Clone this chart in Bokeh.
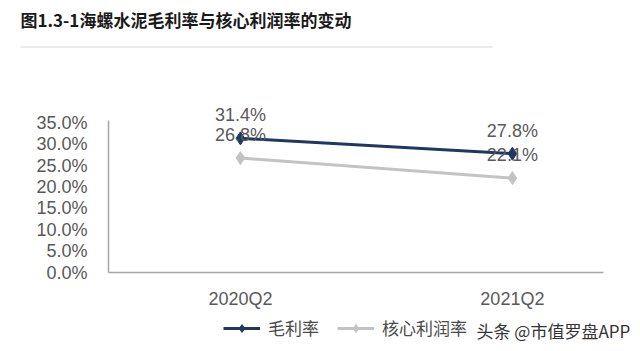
from bokeh.plotting import figure
from bokeh.models import (Range1d, FixedTicker, NumeralTickFormatter, ColumnDataSource,
                          LabelSet, Legend, LegendItem)
from bokeh.core.properties import value
from bokeh.embed import file_html
from bokeh.resources import INLINE

categories = ["2020Q2", "2021Q2"]
gross_margin = [0.314, 0.278]
core_margin = [0.268, 0.221]
gross_labels = ["31.4%", "27.8%"]
core_labels = ["26.8%", "22.1%"]
y_ticks = [0.0, 0.05, 0.10, 0.15, 0.20, 0.25, 0.30, 0.35]
series_names = ["毛利率", "核心利润率"]
title_text = "图1.3-1海螺水泥毛利率与核心利润率的变动"
watermark_text = "头条 @市值罗盘APP"

NAVY = "#1f3764"
GRAY = "#c3c3c3"
TXT = "#595959"
NUMFONT = "Liberation Sans"
CJK = "Noto Sans CJK SC"
W = 640


def blank(h):
    f = figure(width=W, height=h, output_backend="svg", toolbar_location=None,
               x_range=Range1d(0, W), y_range=Range1d(0, h),
               min_border=0, x_axis_location=None, y_axis_location=None)
    f.outline_line_color = None
    f.grid.grid_line_color = None
    return f


# ---- title strip ----
top = blank(50)
top.text(x=[20], y=[31], text=[title_text], text_font=value(CJK), text_font_size="17px",
         text_font_style="bold", text_color="#1a1a1a", text_baseline="middle", text_align="left")
top.segment(x0=[20], y0=[3.5], x1=[492], y1=[3.5], line_color="#e3e3e3", line_width=1.5)

# ---- main chart ----
xs = list(range(len(categories)))
p = figure(width=W, height=262, output_backend="svg", toolbar_location=None,
           x_range=Range1d(-0.485, 1.335), y_range=Range1d(0, 0.426),
           min_border_left=108, min_border_right=37, min_border_top=40, min_border_bottom=40)
p.outline_line_color = None
p.grid.grid_line_color = None

p.xaxis.ticker = FixedTicker(ticks=xs)
p.xaxis.major_label_overrides = {i: c for i, c in zip(xs, categories)}
p.yaxis.ticker = FixedTicker(ticks=y_ticks)
p.yaxis.formatter = NumeralTickFormatter(format="0.0%")
p.yaxis.bounds = (0, 0.355)
for ax in (p.xaxis[0], p.yaxis[0]):
    ax.axis_line_color = "#a6a6a6"
    ax.axis_line_width = 1.5
    ax.major_tick_line_color = None
    ax.minor_tick_line_color = None
    ax.major_label_text_font = NUMFONT
    ax.major_label_text_font_size = "18px"
    ax.major_label_text_color = TXT
p.xaxis.major_label_standoff = 10
p.yaxis.major_label_standoff = 15

src = ColumnDataSource(dict(x=xs, g=gross_margin, c=core_margin, gl=gross_labels, cl=core_labels))

for col, yc in (("gl", "g"), ("cl", "c")):
    p.add_layout(LabelSet(x="x", y=yc, text=col, source=src, y_offset=23,
                          text_align="center", text_baseline="middle",
                          text_font=value(NUMFONT), text_font_size="18px", text_color=TXT))

p.line("x", "c", source=src, line_color=GRAY, line_width=3)
p.scatter("x", "c", source=src, marker="diamond", size=13, color=GRAY)
p.line("x", "g", source=src, line_color=NAVY, line_width=3)
p.scatter("x", "g", source=src, marker="diamond", size=13, color=NAVY)

# ---- legend strip (legend swatches use off-canvas proxy renderers) ----
bot = blank(39)
proxy = ColumnDataSource(dict(x=[-100, -90], y=[-100, -100]))
lg1 = bot.line("x", "y", source=proxy, line_color=NAVY, line_width=3)
lm1 = bot.scatter("x", "y", source=proxy, marker="diamond", size=8, color=NAVY)
lg2 = bot.line("x", "y", source=proxy, line_color=GRAY, line_width=3)
lm2 = bot.scatter("x", "y", source=proxy, marker="diamond", size=8, color=GRAY)
legend = Legend(items=[LegendItem(label=series_names[0], renderers=[lg1, lm1]),
                       LegendItem(label=series_names[1], renderers=[lg2, lm2])],
                orientation="horizontal", location=(223, 11),
                label_text_font=CJK, label_text_font_size="17px", label_text_color="#4a4a4a",
                glyph_width=37, glyph_height=20, label_height=20, label_standoff=8, spacing=18,
                padding=0, margin=0, border_line_color=None, background_fill_alpha=0)
bot.add_layout(legend)
bot.text(x=[476], y=[21], text=[watermark_text], text_font=value(CJK), text_font_size="17px",
         text_color="#333333", text_baseline="middle", text_align="left")

open("out.html", "w").write(file_html([top, p, bot], INLINE))
